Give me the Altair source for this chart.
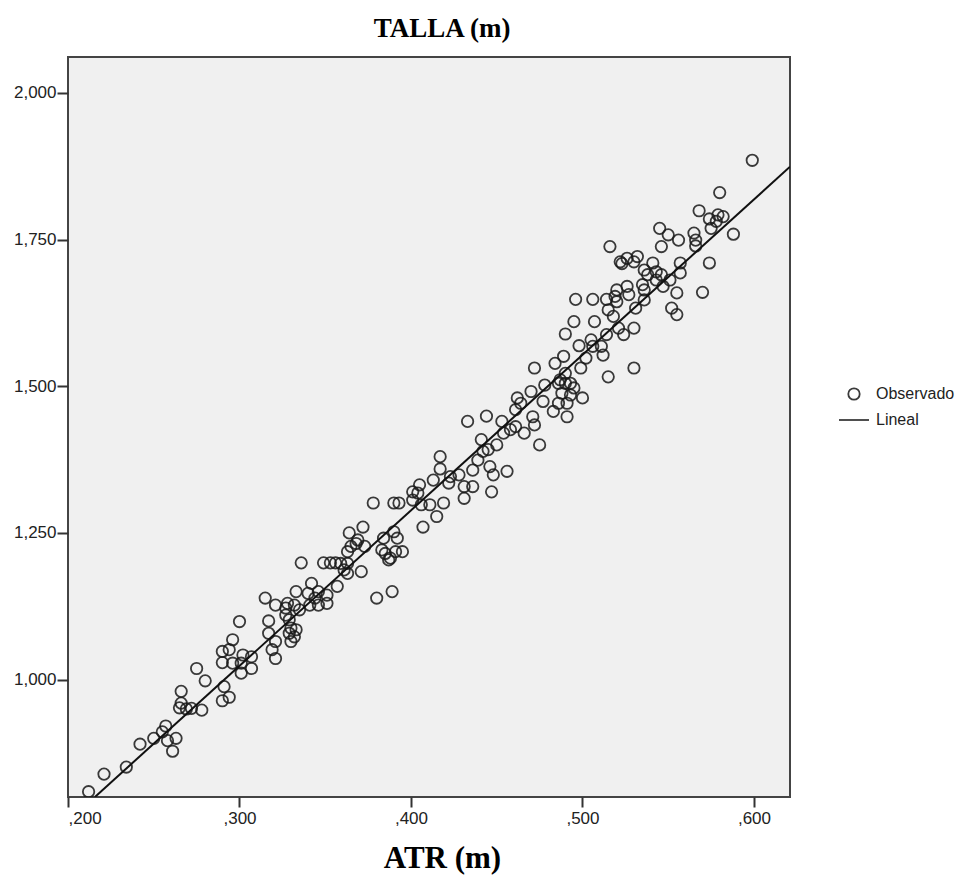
import altair as alt
import pandas as pd

# ATR (m) and TALLA (m) observations
atr = [
    0.212, 0.221, 0.234, 0.242, 0.250, 0.255, 0.257, 0.258, 0.263, 0.261,
    0.266, 0.266, 0.265, 0.269, 0.272, 0.278, 0.275, 0.280, 0.290, 0.294,
    0.290, 0.296, 0.291, 0.290, 0.294, 0.302, 0.307, 0.301, 0.307, 0.301,
    0.296, 0.300, 0.315, 0.321, 0.317, 0.317, 0.321, 0.319, 0.321, 0.327,
    0.328, 0.327, 0.329, 0.330, 0.329, 0.333, 0.332, 0.330, 0.333, 0.332,
    0.335, 0.336, 0.340, 0.342, 0.344, 0.341, 0.346, 0.351, 0.351, 0.346,
    0.357, 0.349, 0.353, 0.356, 0.359, 0.363, 0.361, 0.363, 0.371, 0.365,
    0.368, 0.380, 0.389, 0.383, 0.388, 0.385, 0.391, 0.364, 0.372, 0.369,
    0.373, 0.363, 0.387, 0.384, 0.390, 0.392, 0.395, 0.378, 0.390, 0.393,
    0.401, 0.404, 0.405, 0.401, 0.406, 0.411, 0.419, 0.415, 0.407, 0.413,
    0.417, 0.417, 0.422, 0.423, 0.428, 0.431, 0.436, 0.431, 0.436, 0.439,
    0.442, 0.446, 0.448, 0.447, 0.456, 0.450, 0.441, 0.445, 0.433, 0.444,
    0.453, 0.454, 0.458, 0.461, 0.462, 0.461, 0.464, 0.466, 0.470, 0.471,
    0.472, 0.475, 0.472, 0.477, 0.478, 0.483, 0.484, 0.489, 0.490, 0.491,
    0.491, 0.487, 0.516, 0.522, 0.530, 0.526, 0.532, 0.496, 0.506, 0.514,
    0.520, 0.526, 0.527, 0.520, 0.515, 0.518, 0.531, 0.495, 0.507, 0.490,
    0.498, 0.505, 0.511, 0.506, 0.514, 0.521, 0.524, 0.530, 0.512, 0.502,
    0.499, 0.515, 0.530, 0.490, 0.493, 0.486, 0.488, 0.493, 0.500, 0.495,
    0.486, 0.599, 0.580, 0.568, 0.574, 0.579, 0.582, 0.578, 0.575, 0.588,
    0.545, 0.550, 0.556, 0.546, 0.565, 0.566, 0.566, 0.523, 0.541, 0.536,
    0.538, 0.543, 0.546, 0.543, 0.557, 0.557, 0.574, 0.551, 0.547, 0.535,
    0.536, 0.519, 0.555, 0.570, 0.536, 0.552, 0.555,
]
talla = [
    0.809, 0.839, 0.851, 0.890, 0.900, 0.911, 0.921, 0.896, 0.900, 0.878,
    0.980, 0.960, 0.952, 0.950, 0.951, 0.948, 1.019, 0.998, 1.048, 1.051,
    1.029, 1.028, 0.988, 0.964, 0.970, 1.042, 1.039, 1.011, 1.019, 1.028,
    1.068, 1.099, 1.139, 1.127, 1.100, 1.079, 1.065, 1.051, 1.036, 1.122,
    1.130, 1.110, 1.102, 1.088, 1.079, 1.085, 1.073, 1.065, 1.150, 1.127,
    1.119, 1.199, 1.147, 1.164, 1.139, 1.127, 1.127, 1.130, 1.144, 1.150,
    1.159, 1.199, 1.199, 1.199, 1.198, 1.198, 1.187, 1.181, 1.184, 1.227,
    1.232, 1.139, 1.150, 1.221, 1.207, 1.215, 1.218, 1.250, 1.260, 1.238,
    1.227, 1.218, 1.204, 1.241, 1.252, 1.241, 1.218, 1.301, 1.301, 1.301,
    1.320, 1.318, 1.332, 1.306, 1.298, 1.298, 1.301, 1.278, 1.260, 1.340,
    1.380, 1.359, 1.335, 1.346, 1.349, 1.329, 1.329, 1.309, 1.357, 1.374,
    1.389, 1.363, 1.349, 1.320, 1.355, 1.400, 1.409, 1.392, 1.440, 1.449,
    1.440, 1.420, 1.426, 1.431, 1.480, 1.460, 1.471, 1.420, 1.491, 1.448,
    1.434, 1.400, 1.531, 1.474, 1.502, 1.457, 1.539, 1.551, 1.505, 1.471,
    1.448, 1.511, 1.738, 1.712, 1.712, 1.718, 1.721, 1.648, 1.648, 1.648,
    1.664, 1.670, 1.656, 1.644, 1.630, 1.619, 1.633, 1.610, 1.610, 1.589,
    1.569, 1.579, 1.568, 1.568, 1.588, 1.599, 1.588, 1.599, 1.553, 1.548,
    1.531, 1.516, 1.531, 1.522, 1.505, 1.505, 1.488, 1.485, 1.480, 1.497,
    1.471, 1.885, 1.830, 1.799, 1.785, 1.792, 1.789, 1.781, 1.769, 1.759,
    1.769, 1.758, 1.749, 1.738, 1.761, 1.749, 1.739, 1.709, 1.710, 1.698,
    1.690, 1.695, 1.690, 1.681, 1.710, 1.693, 1.710, 1.681, 1.670, 1.673,
    1.664, 1.653, 1.659, 1.660, 1.647, 1.633, 1.622,
]

# Linear fit: TALLA = b0 + b1 * ATR, drawn across the ATR range of the axis
b0 = 0.2284
b1 = 2.650
fit_atr = [0.2157, 0.621]

series = ["Observado", "Lineal"]

obs = pd.DataFrame({"atr": atr, "talla": talla, "serie": "Observado"})
fit = pd.DataFrame({"atr": fit_atr, "talla": [b0 + b1 * v for v in fit_atr]})

x_scale = alt.Scale(domain=[0.2, 0.621], nice=False, zero=False)
y_scale = alt.Scale(domain=[0.80, 2.061], nice=False, zero=False)

x_axis = alt.Axis(
    values=[0.2, 0.3, 0.4, 0.5, 0.6],
    labelExpr="replace(format(datum.value, '.3f'), '0.', ',')",
    title="ATR (m)",
    titleFont="Liberation Serif",
    titleFontSize=31,
    titleFontWeight="bold",
    titleColor="#000000",
    titlePadding=17,
    titleX=374,
    grid=False,
    domain=False,
    tickSize=10,
    tickWidth=2,
    tickColor="#333333",
    labelPadding=3,
)
y_axis = alt.Axis(
    values=[1.0, 1.25, 1.5, 1.75, 2.0],
    labelExpr="replace(format(datum.value, '.3f'), '.', ',')",
    title="",
    grid=False,
    domain=False,
    tickSize=11,
    tickWidth=2,
    tickColor="#333333",
    labelPadding=1,
)

points = alt.Chart(obs).mark_point(
    filled=False, strokeWidth=1.8, color="#1a1a1a", opacity=0.85, clip=True
).encode(
    x=alt.X("atr:Q", scale=x_scale, axis=x_axis),
    y=alt.Y("talla:Q", scale=y_scale, axis=y_axis),
    shape=alt.Shape(
        "serie:N",
        scale=alt.Scale(domain=series, range=["circle", "stroke"]),
        legend=alt.Legend(title=None),
    ),
    size=alt.Size(
        "serie:N",
        scale=alt.Scale(type="ordinal", domain=series, range=[130, 900]),
        legend=alt.Legend(title=None),
    ),
)

line = alt.Chart(fit).mark_line(color="#111111", strokeWidth=2, clip=True).encode(
    x=alt.X("atr:Q", scale=x_scale),
    y=alt.Y("talla:Q", scale=y_scale),
)

chart = (
    alt.layer(points, line)
    .properties(
        width=722,
        height=740,
        title=alt.TitleParams(
            "TALLA (m)",
            font="Liberation Serif",
            fontSize=27,
            fontWeight="bold",
            color="#000000",
            anchor="middle",
            dx=13,
            offset=14,
        ),
        autosize=alt.AutoSizeParams(type="none"),
        padding={"left": 68, "top": 57, "right": 178, "bottom": 88},
        background="#ffffff",
    )
    .configure_view(fill="#f0f0f0", stroke="#444444", strokeWidth=2)
    .configure_axis(
        labelFont="Liberation Sans",
        labelFontSize=17,
        labelColor="#222222",
    )
    .configure_legend(
        orient="none",
        legendX=770,
        legendY=329,
        labelFont="Liberation Sans",
        labelFontSize=16,
        labelColor="#222222",
        labelOffset=6,
        symbolStrokeColor="#1a1a1a",
        symbolStrokeWidth=1.8,
        rowPadding=0,
        padding=0,
    )
)

chart.save("out.html", embed_options={"renderer": "svg", "actions": False})
